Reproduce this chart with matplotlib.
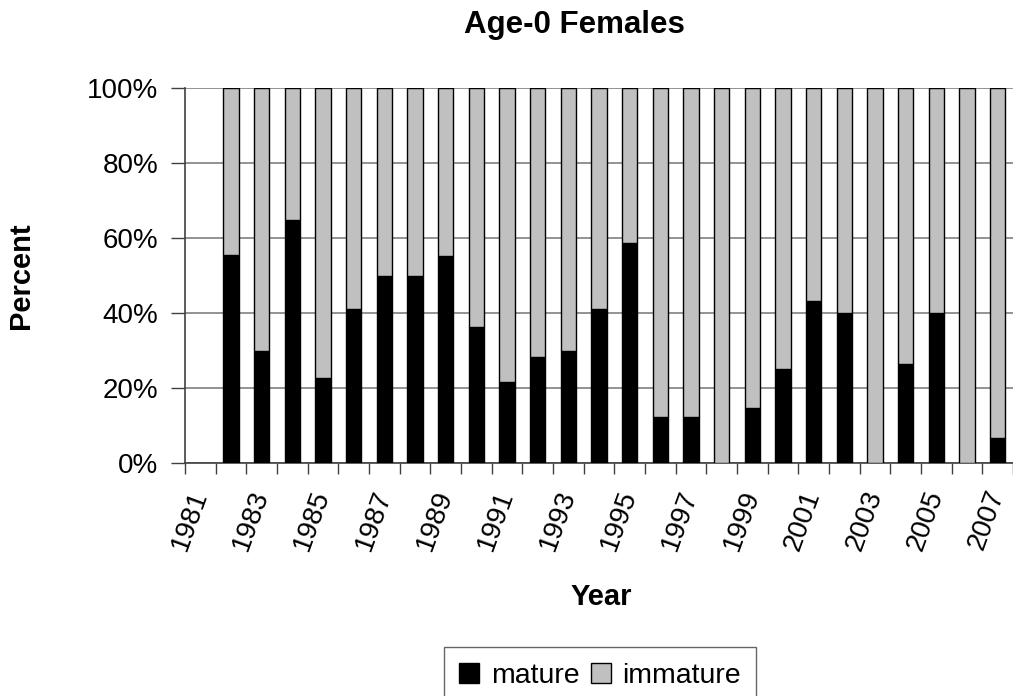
import matplotlib
matplotlib.use("Agg")
import matplotlib.pyplot as plt
import matplotlib.transforms as mtransforms
import numpy as np

plt.rcParams['font.family'] = ['Liberation Sans', 'DejaVu Sans']

# data (percent mature, age-0 females); 1981 has no sample
years = list(range(1981, 2008))
mature = [np.nan, 55.6, 30.0, 64.7, 22.6, 41.2, 50.0, 50.0, 55.1, 36.4, 21.5,
          28.4, 30.0, 41.2, 58.8, 12.4, 12.4, 0.0, 14.6, 25.2, 43.3, 40.0,
          0.0, 26.3, 40.0, 0.0, 6.6]

mature = np.array(mature)
has_data = ~np.isnan(mature)
immature = 100 - mature

fig = plt.figure(figsize=(10.13, 6.96), dpi=100)
ax = fig.add_axes([185/1013, 1 - 463/696, 1 - 185/1013, 375/696])

x = np.arange(len(years))
ax.bar(x[has_data], mature[has_data], width=0.5, color='black',
       edgecolor='black', linewidth=1, label='mature', zorder=3)
ax.bar(x[has_data], immature[has_data], bottom=mature[has_data], width=0.5,
       color='#C0C0C0', edgecolor='black', linewidth=1, label='immature', zorder=3)

ax.set_xlim(-0.5, len(years) - 0.5)
ax.set_ylim(0, 100)

# y axis
ax.set_yticks([0, 20, 40, 60, 80, 100])
ax.set_yticklabels([f"{v}%" for v in range(0, 101, 20)])
ax.tick_params(axis='y', length=10, width=1, color='#404040', pad=9, labelsize=20)
ax.yaxis.grid(True, color='#808080', linewidth=1.2, zorder=0)

# x axis: ticks at category boundaries, labels every other year
ax.set_xticks(np.arange(-0.5, len(years), 1.0), minor=True)
ax.set_xticks(x[::2])
ax.set_xticklabels([str(y) for y in years[::2]], rotation=70, ha='right', va='top')
ax.tick_params(axis='x', which='major', length=0, pad=17, labelsize=20)
ax.tick_params(axis='x', which='minor', length=8, width=1, color='#404040')
shift = mtransforms.ScaledTranslation(12/100, 0, fig.dpi_scale_trans)
for lbl in ax.get_xticklabels():
    lbl.set_transform(lbl.get_transform() + shift)

for s in ['top', 'right']:
    ax.spines[s].set_visible(False)
for s in ['left', 'bottom']:
    ax.spines[s].set_color('#404040')
    ax.spines[s].set_linewidth(1.2)

fig.text(574/1013, 1 - 25/696, 'Age-0 Females', ha='center', va='center',
         fontsize=22.5, fontweight='bold')
fig.text(21/1013, 1 - 276/696, 'Percent', ha='center', va='center',
         rotation=90, fontsize=21, fontweight='bold')
fig.text(601/1013, 1 - 597/696, 'Year', ha='center', va='center',
         fontsize=21, fontweight='bold')

leg = fig.legend(loc='upper center', bbox_to_anchor=(600/1013, 1 - 647/696),
                 ncol=2, fontsize=20.5, frameon=True, fancybox=False,
                 handlelength=0.7, handleheight=0.7, handletextpad=0.4,
                 columnspacing=0.4, borderpad=0.55, borderaxespad=0)
leg.get_frame().set_edgecolor('#404040')
leg.get_frame().set_linewidth(1)

fig.savefig('out.png', dpi=100)
